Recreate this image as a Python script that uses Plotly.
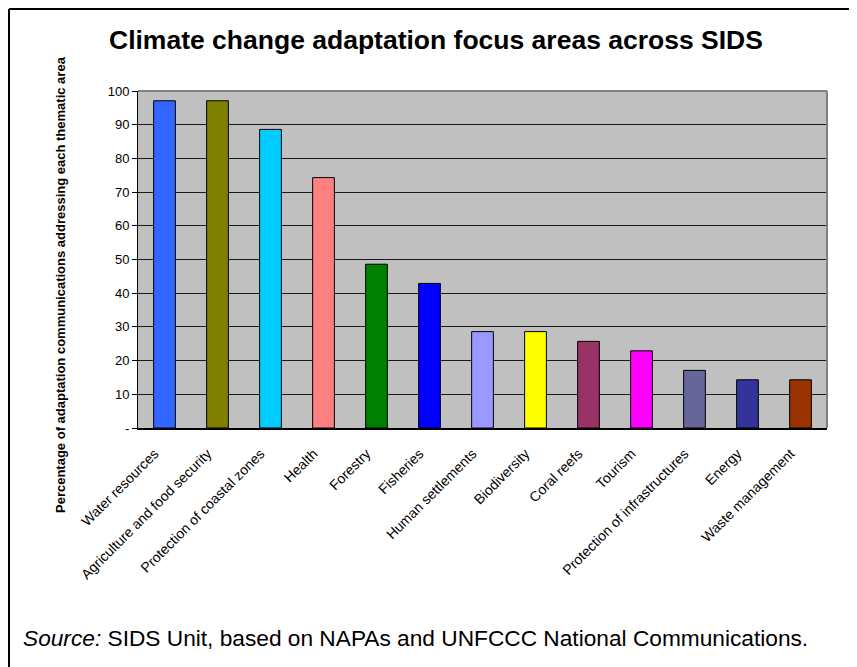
import plotly.graph_objects as go

categories = ["Water resources", "Agriculture and food security", "Protection of coastal zones",
              "Health", "Forestry", "Fisheries", "Human settlements", "Biodiversity",
              "Coral reefs", "Tourism", "Protection of infrastructures", "Energy", "Waste management"]
values = [97.1, 97.1, 88.6, 74.3, 48.6, 42.9, 28.6, 28.6, 25.7, 22.9, 17.1, 14.3, 14.3]
colors = ["#3366FF", "#808000", "#00CCFF", "#FF8080", "#008000", "#0000FF", "#9999FF",
          "#FFFF00", "#993366", "#FF00FF", "#666699", "#333399", "#993300"]
tick_vals = [0, 10, 20, 30, 40, 50, 60, 70, 80, 90, 100]
tick_text = ["-", "10", "20", "30", "40", "50", "60", "70", "80", "90", "100"]

OFF = 8  # page body margin
W, H = 857 - OFF, 667 - OFF
L, T = 138 - OFF, 91 - OFF
R = W - (827 - OFF)
B = H - (428 - OFF)
pw, ph = W - L - R, H - T - B

def px(x):  # screen pixel -> paper
    return (x - OFF - L) / pw

def py(y):
    return (H - B - (y - OFF)) / ph

FONT = "Arial, Liberation Sans, sans-serif"

fig = go.Figure(go.Bar(
    x=categories, y=values,
    marker=dict(color=colors, line=dict(color="black", width=1)),
    width=0.41,
))

fig.update_layout(
    width=W, height=H,
    margin=dict(l=L, r=R, t=T, b=B),
    paper_bgcolor="white",
    plot_bgcolor="#C0C0C0",
    showlegend=False,
    font=dict(family=FONT, color="black"),
    xaxis=dict(tickangle=-45, tickfont=dict(size=14, family=FONT), showline=True,
               linecolor="black", linewidth=2, ticks="outside", ticklen=10,
               tickcolor="rgba(0,0,0,0)", ticklabelshift=-10, showgrid=False),
    yaxis=dict(range=[0, 100], tickvals=tick_vals, ticktext=tick_text,
               tickfont=dict(size=13, family=FONT), ticks="outside", ticklen=5,
               tickcolor="black", showline=True, linecolor="black", linewidth=1,
               showgrid=True, gridcolor="#1a1a1a", gridwidth=1, zeroline=False),
    shapes=[
        dict(type="line", xref="paper", yref="paper", x0=0, x1=1, y0=1, y1=1,
             line=dict(color="#808080", width=2)),
        dict(type="line", xref="paper", yref="paper", x0=1, x1=1, y0=0, y1=1,
             line=dict(color="#808080", width=2)),
        dict(type="line", xref="paper", yref="paper", x0=px(9), x1=px(9), y0=py(9), y1=py(680),
             line=dict(color="black", width=2)),
        dict(type="line", xref="paper", yref="paper", x0=px(9), x1=px(870), y0=py(9), y1=py(9),
             line=dict(color="black", width=2)),
    ],
    annotations=[
        dict(text="<b>Climate change adaptation focus areas across SIDS</b>",
             xref="paper", yref="paper", x=px(436), y=py(40), xanchor="center", yanchor="middle",
             showarrow=False, font=dict(size=26.5, family=FONT)),
        dict(text="<b>Percentage of adaptation communications addressing each thematic area</b>",
             xref="paper", yref="paper", x=px(60), y=py(285), textangle=-90,
             showarrow=False, font=dict(size=13, family=FONT), xanchor="center", yanchor="middle"),
        dict(text="<i>Source:</i> SIDS Unit, based on NAPAs and UNFCCC National Communications.",
             xref="paper", yref="paper", x=px(21), y=py(638), xanchor="left", yanchor="middle",
             showarrow=False, font=dict(size=22.7, family=FONT)),
    ],
)

fig.write_html("out.html")
